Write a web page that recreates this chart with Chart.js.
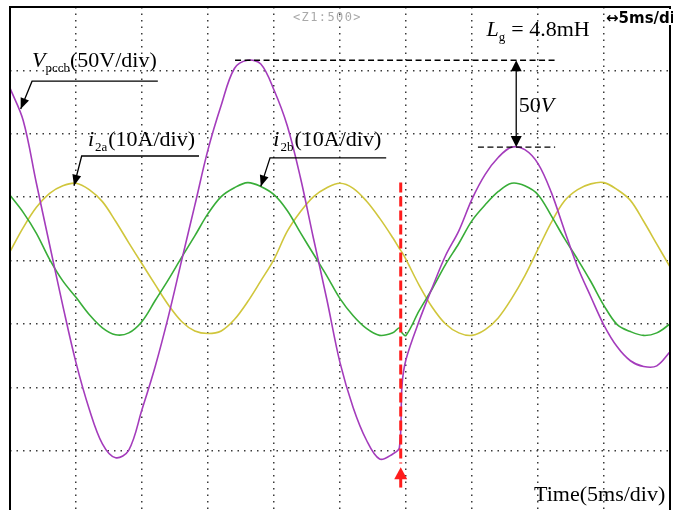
<!DOCTYPE html>
<html>
<head>
<meta charset="utf-8">
<script src="https://cdn.jsdelivr.net/npm/chart.js@4"></script>
<style>
  html, body { margin: 0; padding: 0; background: #fff; }
</style>
</head>
<body>
<canvas id="scope" width="673" height="510"></canvas>
<script>
// time in ms (5 ms/div), every trace in screen divisions from the centre line
var timeMs = [0, 1, 2, 3, 4, 5, 6, 7, 8, 9,
  10, 11, 12, 13, 14, 15, 16, 17, 18, 19,
  20, 21, 22, 23, 24, 25, 26, 27, 28, 29,
  29.5, 29.7,
  30, 31, 32, 33, 34, 35, 36, 37, 38, 39,
  40, 41, 42, 43, 44, 45, 46, 47, 48, 49, 50];

// V_pccb, 50 V/div
var vPccb = [2.72, 2.21, 1.22, 0.25, -0.71, -1.61, -2.34, -2.89, -3.11, -2.99,
  -2.35, -1.67, -0.88, 0.00, 0.87, 1.75, 2.45, 3.03, 3.16, 3.10,
  2.69, 2.13, 1.31, 0.34, -0.61, -1.61, -2.32, -2.83, -3.13, -3.05,
  -2.95, -1.96,
  -1.56, -0.95, -0.42, 0.08, 0.47, 0.97, 1.36, 1.63, 1.79, 1.75,
  1.53, 1.08, 0.48, -0.10, -0.57, -1.02, -1.36, -1.58, -1.67, -1.66, -1.44];

// i_2a, 10 A/div
var i2a = [0.14, 0.52, 0.84, 1.06, 1.18, 1.22, 1.12, 0.93, 0.62, 0.28,
  -0.05, -0.38, -0.70, -0.96, -1.11, -1.15, -1.11, -0.93, -0.65, -0.32,
  0.02, 0.46, 0.77, 1.01, 1.15, 1.22, 1.14, 0.94, 0.67, 0.36,
  0.19, 0.13,
  0.02, -0.39, -0.74, -1.00, -1.14, -1.18, -1.09, -0.90, -0.60, -0.24,
  0.18, 0.60, 0.94, 1.12, 1.21, 1.23, 1.12, 0.95, 0.62, 0.26, -0.10];

// i_2b, 10 A/div
var i2b = [1.03, 0.76, 0.43, 0.02, -0.32, -0.58, -0.85, -1.06, -1.17, -1.14,
  -0.96, -0.63, -0.30, 0.05, 0.39, 0.74, 1.01, 1.15, 1.23, 1.17,
  1.04, 0.79, 0.44, 0.10, -0.24, -0.60, -0.87, -1.07, -1.18, -1.14,
  -1.06, -1.14,
  -1.18, -0.79, -0.44, -0.06, 0.27, 0.63, 0.88, 1.09, 1.22, 1.18,
  1.04, 0.71, 0.35, 0.02, -0.33, -0.71, -1.01, -1.12, -1.18, -1.14, -1.00];

var gridRows = [-3, -2, -1, 0, 1, 2, 3, 4];
var eventTime = 29.6;   // grid inductance step
var serif = '"Liberation Serif", "Times New Roman", serif';

function points(ys) {
  return ys.map(function(v, i) { return { x: timeMs[i], y: v }; });
}

function arrowHead(ctx, x0, y0, x1, y1, len, half) {
  var a = Math.atan2(y1 - y0, x1 - x0);
  var bx = x1 - len * Math.cos(a), by = y1 - len * Math.sin(a);
  ctx.beginPath();
  ctx.moveTo(x1, y1);
  ctx.lineTo(bx + half * Math.sin(a), by - half * Math.cos(a));
  ctx.lineTo(bx - half * Math.sin(a), by + half * Math.cos(a));
  ctx.closePath();
  ctx.fill();
}

// text with italic / subscript pieces
function richText(ctx, x, y, parts) {
  parts.forEach(function(p) {
    ctx.font = (p.it ? 'italic ' : '') + (p.sub ? '13px ' : '22px ') + serif;
    ctx.fillText(p.s, x, p.sub ? y + 5 : y);
    x += ctx.measureText(p.s).width + (p.gap || 0);
  });
}

var labels = [
  { tx: 1.67, ty: 3.05, parts: [{ s: 'V', it: true }, { s: 'pccb', sub: true }, { s: '(50V/div)' }],
    line: [1.67, 11.2, 2.83], tip: [0.81, 2.39] },
  { tx: 5.9, ty: 1.81, parts: [{ s: 'i', it: true, gap: 1 }, { s: '2a', sub: true, gap: 1 }, { s: '(10A/div)' }],
    line: [5.43, 14.32, 1.65], tip: [4.85, 1.18] },
  { tx: 19.95, ty: 1.81, parts: [{ s: 'i', it: true, gap: 1 }, { s: '2b', sub: true, gap: 1 }, { s: '(10A/div)' }],
    line: [19.7, 28.5, 1.62], tip: [19.0, 1.17] }
];

var scopeMarks = {
  id: 'scopeMarks',
  afterDraw: function(chart) {
    var ctx = chart.ctx, xs = chart.scales.x, ys = chart.scales.y, ar = chart.chartArea;
    function px(t) { return xs.getPixelForValue(t); }
    function py(d) { return ys.getPixelForValue(d); }
    ctx.save();

    // event marker
    ctx.strokeStyle = '#ff1c1c';
    ctx.fillStyle = '#ff1c1c';
    ctx.lineWidth = 3;
    ctx.setLineDash([10, 4]);
    ctx.beginPath();
    ctx.moveTo(px(eventTime), py(1.23));
    ctx.lineTo(px(eventTime), py(-3.2));
    ctx.stroke();
    ctx.setLineDash([]);
    ctx.beginPath();
    ctx.moveTo(px(eventTime), py(-3.4));
    ctx.lineTo(px(eventTime), py(-3.58));
    ctx.stroke();
    arrowHead(ctx, px(eventTime), py(-3.5), px(eventTime), py(-3.26), 12, 6.5);

    // peak levels before / after the step
    var split = timeMs.indexOf(29.7);
    var peakA = Math.max.apply(null, vPccb.slice(0, split));
    var peakB = Math.max.apply(null, vPccb.slice(split));
    ctx.strokeStyle = '#000';
    ctx.fillStyle = '#000';
    ctx.lineWidth = 1.3;
    ctx.setLineDash([6, 3.5]);
    ctx.beginPath();
    ctx.moveTo(px(17.05), py(peakA)); ctx.lineTo(px(41.3), py(peakA));
    ctx.moveTo(px(35.45), py(peakB)); ctx.lineTo(px(41.3), py(peakB));
    ctx.stroke();
    ctx.setLineDash([]);
    var ax = px(38.35);
    ctx.beginPath();
    ctx.moveTo(ax, py(peakA) + 8); ctx.lineTo(ax, py(peakB) - 8);
    ctx.stroke();
    arrowHead(ctx, ax, py(peakB), ax, py(peakA), 11, 5.5);
    arrowHead(ctx, ax, py(peakA), ax, py(peakB), 11, 5.5);
    richText(ctx, px(38.54), py(2.34), [{ s: '50' }, { s: 'V', it: true }]);

    // trace labels with pointers
    labels.forEach(function(l) {
      richText(ctx, px(l.tx), py(l.ty), l.parts);
      ctx.lineWidth = 1.3;
      ctx.beginPath();
      ctx.moveTo(px(l.line[1]), py(l.line[2]));
      ctx.lineTo(px(l.line[0]), py(l.line[2]));
      ctx.lineTo(px(l.tip[0]), py(l.tip[1]));
      ctx.stroke();
      arrowHead(ctx, px(l.line[0]), py(l.line[2]), px(l.tip[0]), py(l.tip[1]), 11, 4.5);
    });

    richText(ctx, px(36.1), py(3.55), [{ s: 'L', it: true }, { s: 'g', sub: true, gap: 6 }, { s: '= 4.8mH' }]);
    richText(ctx, px(39.7), py(-3.79), [{ s: 'Time(5ms/div)' }]);

    // screen frame
    ctx.lineWidth = 2;
    ctx.beginPath();
    ctx.moveTo(ar.left, ar.bottom);
    ctx.lineTo(ar.left, ar.top);
    ctx.lineTo(ar.right, ar.top);
    ctx.lineTo(ar.right, ar.bottom);
    ctx.stroke();

    // scope readouts
    ctx.font = '12px "DejaVu Sans Mono", monospace';
    ctx.letterSpacing = '1.4px';
    ctx.fillStyle = '#a9a9a9';
    ctx.fillText('<Z1:500>', 293, 21);
    ctx.letterSpacing = '0px';
    ctx.fillStyle = '#fff';
    ctx.fillRect(608, 9, 70, 16);
    ctx.fillStyle = '#000';
    ctx.font = 'bold 15px "DejaVu Sans", sans-serif';
    ctx.fillText('\u21945ms/div', 606, 23);
    ctx.restore();
  }
};

var gridStyle = { color: '#3a3a3a', lineWidth: 1.5, drawTicks: false };
var dotted = { display: false, dash: [1.5, 5] };

new Chart(document.getElementById('scope'), {
  type: 'line',
  data: {
    datasets: [
      { label: 'V_pccb', data: points(vPccb), borderColor: '#a43cbc' },
      { label: 'i_2b', data: points(i2b), borderColor: '#38ad38' },
      { label: 'i_2a', data: points(i2a), borderColor: '#d0c63c' }
    ]
  },
  options: {
    responsive: false,
    animation: false,
    events: [],
    layout: { padding: { left: 10, right: 3, top: 7, bottom: 0 } },
    elements: {
      point: { radius: 0 },
      line: { borderWidth: 1.6, tension: 0.35, fill: false }
    },
    plugins: { legend: { display: false }, tooltip: { enabled: false } },
    scales: {
      x: {
        type: 'linear', min: 0, max: 50,
        ticks: { display: false, stepSize: 5 },
        grid: gridStyle, border: dotted
      },
      y: {
        type: 'linear', min: -3.934, max: 4,
        ticks: { display: false },
        afterBuildTicks: function(scale) {
          scale.ticks = gridRows.map(function(v) { return { value: v }; });
        },
        grid: gridStyle, border: dotted
      }
    }
  },
  plugins: [scopeMarks]
});
</script>
</body>
</html>
